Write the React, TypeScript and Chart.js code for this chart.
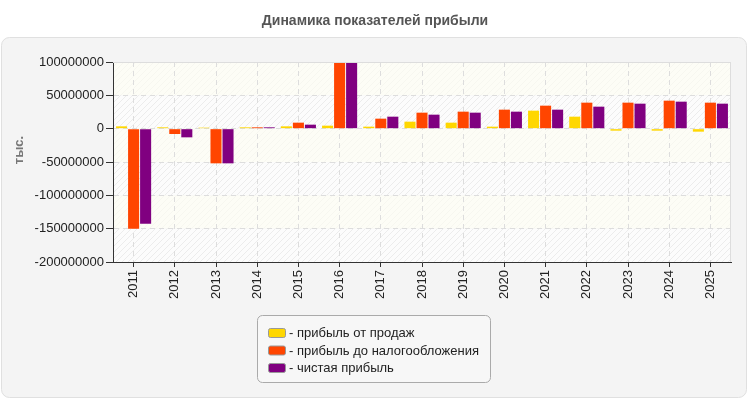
import React, { useEffect, useRef } from "react";
import { Chart, registerables } from "chart.js";

Chart.register(...registerables);

const years = ["2011", "2012", "2013", "2014", "2015", "2016", "2017", "2018", "2019", "2020", "2021", "2022", "2023", "2024", "2025"];

// прибыль от продаж
const salesProfit = [3500000, 2000000, 1500000, 2000000, 3500000, 4500000, 3000000, 10500000, 9000000, 3000000, 27000000, 18000000, -3000000, -3000000, -4500000];
// прибыль до налогообложения
const preTaxProfit = [-150000000, -8000000, -52000000, 2000000, 9000000, 100000000, 15000000, 24000000, 25500000, 28500000, 34500000, 39000000, 39000000, 42000000, 39000000];
// чистая прибыль
const netProfit = [-142500000, -13000000, -52000000, 2000000, 6000000, 99000000, 18000000, 21000000, 24000000, 25500000, 28500000, 33000000, 37500000, 40500000, 37500000];

const seriesNames = ["прибыль от продаж", "прибыль до налогообложения", "чистая прибыль"];
const seriesColors = ["#FFD700", "#FF4500", "#800080"];

const chartTitle = "Динамика показателей прибыли";
const yAxisTitle = "тыс.";
const yMin = -200000000;
const yMax = 100000000;
const yStep = 50000000;

const FONT = '"Liberation Sans", Arial, sans-serif';

function makeHatch(bg: string, stroke: string): CanvasPattern | string {
  const c = document.createElement("canvas");
  c.width = 6;
  c.height = 6;
  const g = c.getContext("2d");
  if (!g) return bg;
  g.fillStyle = bg;
  g.fillRect(0, 0, 6, 6);
  g.strokeStyle = stroke;
  g.lineWidth = 1;
  g.beginPath();
  g.moveTo(0, 6);
  g.lineTo(6, 0);
  g.moveTo(-1, 1);
  g.lineTo(1, -1);
  g.moveTo(5, 7);
  g.lineTo(7, 5);
  g.stroke();
  const p = g.createPattern(c, "repeat");
  return p || bg;
}

function roundRect(ctx: CanvasRenderingContext2D, x: number, y: number, w: number, h: number, r: number) {
  ctx.beginPath();
  ctx.moveTo(x + r, y);
  ctx.lineTo(x + w - r, y);
  ctx.arcTo(x + w, y, x + w, y + r, r);
  ctx.lineTo(x + w, y + h - r);
  ctx.arcTo(x + w, y + h, x + w - r, y + h, r);
  ctx.lineTo(x + r, y + h);
  ctx.arcTo(x, y + h, x, y + h - r, r);
  ctx.lineTo(x, y + r);
  ctx.arcTo(x, y, x + r, y, r);
  ctx.closePath();
}

// panel background, alternating plot bands
const backgroundPlugin = {
  id: "panelBackground",
  beforeDraw(chart: any) {
    const ctx: CanvasRenderingContext2D = chart.ctx;
    const { width, height, chartArea } = chart;
    ctx.save();
    ctx.fillStyle = "#ffffff";
    ctx.fillRect(0, 0, width, height);
    roundRect(ctx, 1.5, 37.5, 745, 360, 8);
    ctx.fillStyle = "#f4f4f4";
    ctx.fill();
    ctx.strokeStyle = "#e0e0e0";
    ctx.lineWidth = 1;
    ctx.stroke();

    const cream = makeHatch("#fdfdf6", "rgba(0,0,0,0.025)");
    const hatched = makeHatch("#fcfcfc", "#ececec");
    const y = chart.scales.y;
    let i = 0;
    for (let v = yMax; v > yMin; v -= yStep) {
      const top = y.getPixelForValue(v);
      const bottom = y.getPixelForValue(v - yStep);
      ctx.fillStyle = i % 2 === 0 ? cream : hatched;
      ctx.fillRect(chartArea.left, top, chartArea.right - chartArea.left, bottom - top);
      i++;
    }
    ctx.restore();
  },
};

// title, frame, axis caption and legend box
const decorPlugin = {
  id: "decor",
  afterDraw(chart: any) {
    const ctx: CanvasRenderingContext2D = chart.ctx;
    const { chartArea } = chart;
    ctx.save();

    // light frame on top and right of the plot
    ctx.strokeStyle = "#dddddd";
    ctx.lineWidth = 1;
    ctx.beginPath();
    ctx.moveTo(chartArea.left, chartArea.top + 0.5);
    ctx.lineTo(chartArea.right - 0.5, chartArea.top + 0.5);
    ctx.lineTo(chartArea.right - 0.5, chartArea.bottom);
    ctx.stroke();

    // chart title
    ctx.fillStyle = "#555555";
    ctx.font = `bold 14px ${FONT}`;
    ctx.textAlign = "center";
    ctx.textBaseline = "middle";
    ctx.fillText(chartTitle, 375, 21);

    // y axis caption
    ctx.save();
    ctx.translate(19, 150);
    ctx.rotate(-Math.PI / 2);
    ctx.fillStyle = "#777777";
    ctx.font = `bold 13px ${FONT}`;
    ctx.fillText(yAxisTitle, 0, 0);
    ctx.restore();

    // legend
    roundRect(ctx, 257.5, 315.5, 233, 67, 5);
    ctx.fillStyle = "#f7f7f7";
    ctx.fill();
    ctx.strokeStyle = "#aaaaaa";
    ctx.stroke();

    ctx.font = `13px ${FONT}`;
    ctx.textAlign = "left";
    ctx.textBaseline = "middle";
    const rows = [333, 350.5, 368];
    seriesNames.forEach((name, k) => {
      const cy = rows[k];
      roundRect(ctx, 268.5, cy - 4.5, 17, 9, 2);
      ctx.fillStyle = seriesColors[k];
      ctx.fill();
      ctx.strokeStyle = "#999999";
      ctx.stroke();
      ctx.fillStyle = "#222222";
      ctx.fillText("- " + name, 289, cy + 0.5);
    });

    ctx.restore();
  },
};

export default function App() {
  const canvasRef = useRef<HTMLCanvasElement | null>(null);

  useEffect(() => {
    const canvas = canvasRef.current;
    if (!canvas) return;
    const datasets = [salesProfit, preTaxProfit, netProfit].map((data, k) => ({
      label: seriesNames[k],
      data,
      backgroundColor: seriesColors[k],
      borderWidth: 0,
      categoryPercentage: 0.875,
      barPercentage: 0.92,
    }));

    const chart = new Chart(canvas, {
      type: "bar",
      data: { labels: years, datasets },
      plugins: [backgroundPlugin, decorPlugin],
      options: {
        animation: false,
        responsive: false,
        maintainAspectRatio: false,
        layout: { padding: { top: 62, right: 19, left: 0, bottom: 0 } },
        plugins: {
          legend: { display: false },
          title: { display: false },
          tooltip: { enabled: false },
        },
        scales: {
          x: {
            offset: true,
            afterFit: (s: any) => {
              s.height = 138;
            },
            grid: {
              offset: false,
              color: "#dddddd",
              tickColor: "#333333",
              tickLength: 5,
              drawOnChartArea: true,
            },
            border: { color: "#333333", width: 1, dash: [5, 4] },
            ticks: {
              color: "#222222",
              font: { family: FONT, size: 13 },
              minRotation: 90,
              maxRotation: 90,
              autoSkip: false,
              padding: 3,
            },
          },
          y: {
            min: yMin,
            max: yMax,
            afterFit: (s: any) => {
              s.width = 113;
            },
            grid: {
              color: "#dddddd",
              tickColor: "#333333",
              tickLength: 7,
            },
            border: { color: "#333333", width: 1, dash: [5, 4] },
            ticks: {
              stepSize: yStep,
              color: "#222222",
              font: { family: FONT, size: 13 },
              padding: 2,
              callback: (v: any) => String(v),
            },
          },
        },
      },
    });
    return () => chart.destroy();
  }, []);

  return (
    <div style={{ position: "absolute", left: 0, top: 0, width: 750, height: 400 }}>
      <canvas ref={canvasRef} width={750} height={400} style={{ display: "block" }} />
    </div>
  );
}
